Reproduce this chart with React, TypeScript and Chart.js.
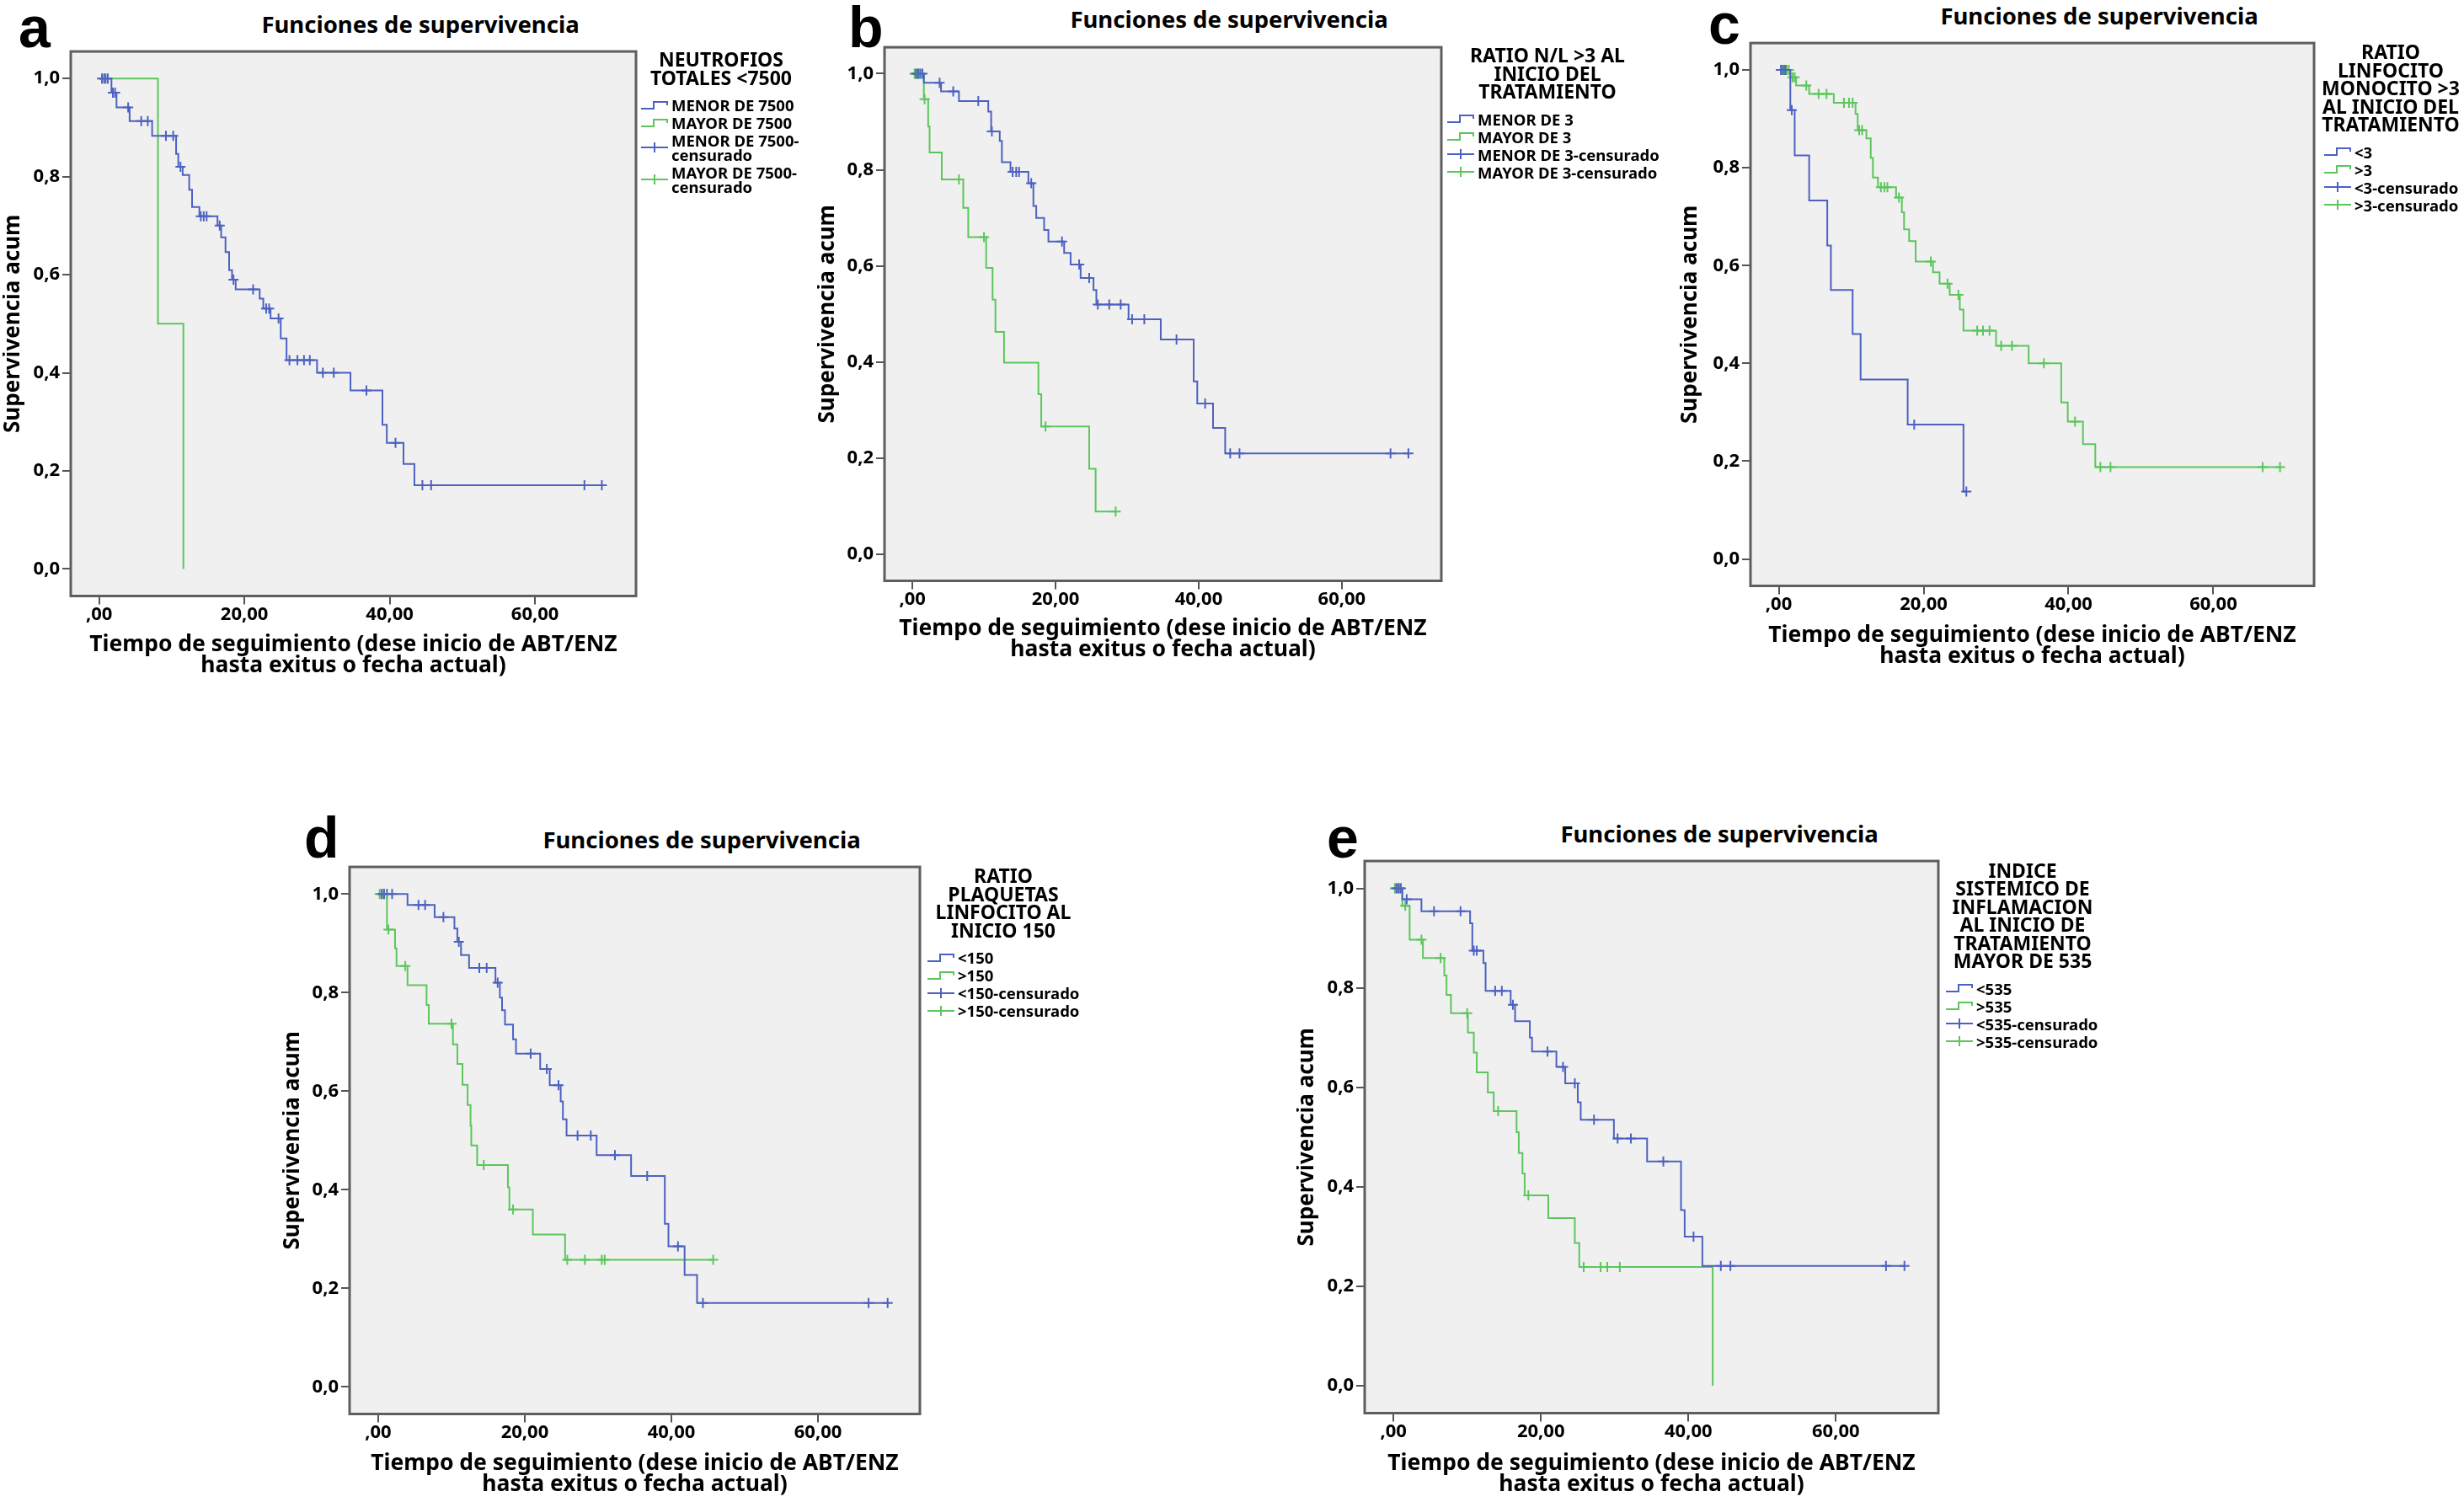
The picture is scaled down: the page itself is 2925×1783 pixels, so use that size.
import React, { useEffect, useRef } from 'react';
import { Chart, registerables } from 'chart.js';

Chart.register(...registerables);

// ---------- shared text / ticks ----------
const chartTitle = 'Funciones de supervivencia';
const yAxisTitle = 'Supervivencia acum';
const xAxisTitle = ['Tiempo de seguimiento (dese inicio de ABT/ENZ', 'hasta exitus o fecha actual)'];
const xTickValues = [0, 20, 40, 60];
const xTickLabels = [',00', '20,00', '40,00', '60,00'];
const yTickValues = [0, 0.2, 0.4, 0.6, 0.8, 1.0];
const yTickLabels = ['0,0', '0,2', '0,4', '0,6', '0,8', '1,0'];

// ---------- panel a ----------
const aLegendTitle = ['NEUTROFIOS', 'TOTALES <7500'];
const aGroups = ['MENOR DE 7500', 'MAYOR DE 7500'];
const aBlueTimes = [1.7, 2.4, 4.2, 7.3, 10.6, 10.9, 11.5, 12.4, 12.8, 13.8, 16.3, 16.8, 17.4, 17.9, 18.3, 18.8, 22.1, 22.6, 23.6, 25.0, 25.8, 30.0, 34.6, 39.0, 39.6, 41.9, 43.4];
const aBlueSurv = [0.971, 0.941, 0.913, 0.883, 0.846, 0.82, 0.803, 0.773, 0.738, 0.719, 0.70, 0.676, 0.646, 0.609, 0.59, 0.57, 0.551, 0.531, 0.511, 0.47, 0.426, 0.40, 0.364, 0.294, 0.257, 0.214, 0.171];
const aBlueCensored = [0.4, 0.7, 0.9, 1.2, 1.9, 2.2, 4.0, 5.8, 6.7, 9.2, 10.2, 11.2, 14.0, 14.4, 14.8, 16.6, 18.5, 21.2, 23.0, 23.4, 24.7, 26.2, 27.3, 28.2, 29.0, 30.8, 32.3, 36.8, 40.8, 44.5, 45.7, 66.8, 69.2];
const aGreenTimes = [8.1, 11.6];
const aGreenSurv = [0.5, 0];
const aGreenCensored: number[] = [];

// ---------- panel b ----------
const bLegendTitle = ['RATIO N/L >3 AL', 'INICIO DEL', 'TRATAMIENTO'];
const bGroups = ['MENOR DE 3', 'MAYOR DE 3'];
const bBlueTimes = [1.6, 4.0, 6.5, 10.6, 11.0, 12.2, 12.5, 13.7, 16.2, 16.9, 17.3, 18.4, 19.0, 21.2, 22.1, 23.5, 25.3, 25.7, 30.2, 34.7, 39.3, 39.8, 42.0, 43.7];
const bBlueSurv = [0.981, 0.963, 0.943, 0.921, 0.88, 0.86, 0.816, 0.796, 0.772, 0.725, 0.70, 0.675, 0.651, 0.627, 0.603, 0.575, 0.55, 0.52, 0.489, 0.447, 0.36, 0.314, 0.263, 0.21];
const bBlueCensored = [0.5, 0.8, 1.1, 1.4, 3.8, 5.7, 9.2, 11.1, 14.0, 14.5, 14.9, 16.6, 20.9, 23.3, 24.7, 25.9, 27.5, 29.1, 30.7, 32.4, 36.9, 40.9, 44.4, 45.7, 66.8, 69.3];
const bGreenTimes = [1.6, 2.2, 2.4, 4.1, 7.1, 7.8, 10.3, 11.2, 11.6, 12.8, 17.6, 18.0, 24.7, 25.6];
const bGreenSurv = [0.947, 0.89, 0.836, 0.78, 0.721, 0.66, 0.596, 0.53, 0.463, 0.399, 0.333, 0.266, 0.178, 0.089];
const bGreenCensored = [0.3, 0.6, 0.9, 1.7, 6.5, 10.0, 18.6, 28.4];

// ---------- panel c ----------
const cLegendTitle = ['RATIO', 'LINFOCITO', 'MONOCITO >3', 'AL INICIO DEL', 'TRATAMIENTO'];
const cGroups = ['<3', '>3'];
const cBlueTimes = [1.6, 2.2, 4.2, 6.7, 7.2, 10.2, 11.3, 17.8, 25.5];
const cBlueSurv = [0.918, 0.825, 0.733, 0.641, 0.55, 0.46, 0.367, 0.275, 0.138];
const cBlueCensored = [0.3, 0.6, 0.9, 1.8, 18.7, 25.9];
const cGreenTimes = [1.6, 2.4, 4.2, 7.6, 10.6, 10.9, 12.1, 12.7, 13.0, 13.7, 16.2, 17.0, 17.3, 18.0, 18.9, 21.3, 22.2, 23.6, 25.0, 25.5, 30.0, 34.5, 39.0, 39.9, 42.0, 43.7];
const cGreenSurv = [0.985, 0.968, 0.951, 0.933, 0.91, 0.877, 0.86, 0.82, 0.78, 0.76, 0.739, 0.709, 0.674, 0.65, 0.608, 0.586, 0.563, 0.54, 0.51, 0.467, 0.436, 0.40, 0.32, 0.281, 0.235, 0.188];
const cGreenCensored = [0.5, 0.8, 1.1, 1.4, 1.9, 2.2, 3.8, 5.5, 6.6, 9.0, 9.7, 10.2, 11.1, 11.5, 14.1, 14.6, 15.0, 16.6, 21.0, 23.3, 24.8, 27.4, 28.2, 29.1, 30.7, 32.2, 36.6, 40.9, 44.4, 45.8, 66.8, 69.2];

// ---------- panel d ----------
const dLegendTitle = ['RATIO', 'PLAQUETAS', 'LINFOCITO AL', 'INICIO 150'];
const dGroups = ['<150', '>150'];
const dBlueTimes = [4.0, 7.7, 10.4, 10.8, 11.3, 12.4, 16.0, 16.6, 16.9, 17.3, 18.4, 18.8, 22.1, 23.4, 24.9, 25.2, 25.7, 29.8, 34.5, 39.1, 39.6, 41.8, 43.5];
const dBlueSurv = [0.978, 0.953, 0.93, 0.903, 0.876, 0.85, 0.82, 0.79, 0.764, 0.735, 0.705, 0.676, 0.645, 0.612, 0.579, 0.543, 0.51, 0.47, 0.428, 0.331, 0.285, 0.227, 0.17];
const dBlueCensored = [0.5, 0.8, 1.2, 1.9, 5.5, 6.4, 8.9, 11.0, 13.8, 14.8, 16.3, 20.8, 23.0, 24.6, 27.2, 29.0, 32.3, 36.7, 40.9, 44.3, 66.9, 69.5];
const dGreenTimes = [1.2, 2.3, 2.5, 4.0, 6.6, 6.9, 10.2, 10.8, 11.5, 12.2, 12.6, 12.7, 13.5, 17.7, 17.9, 21.1, 25.5];
const dGreenSurv = [0.928, 0.89, 0.854, 0.815, 0.775, 0.737, 0.695, 0.655, 0.613, 0.572, 0.53, 0.49, 0.45, 0.405, 0.36, 0.309, 0.258];
const dGreenCensored = [0.2, 0.5, 0.8, 1.4, 3.7, 10.0, 14.4, 18.4, 25.8, 28.2, 30.5, 30.9, 45.7];

// ---------- panel e ----------
const eLegendTitle = ['INDICE', 'SISTEMICO DE', 'INFLAMACION', 'AL INICIO DE', 'TRATAMIENTO', 'MAYOR DE 535'];
const eGroups = ['<535', '>535'];
const eBlueTimes = [1.2, 3.8, 10.4, 10.7, 12.2, 12.5, 15.9, 16.5, 18.5, 18.8, 22.1, 23.3, 25.0, 25.4, 29.9, 34.4, 39.0, 39.5, 41.9];
const eBlueSurv = [0.978, 0.954, 0.93, 0.875, 0.85, 0.794, 0.766, 0.733, 0.70, 0.672, 0.641, 0.608, 0.57, 0.535, 0.497, 0.451, 0.353, 0.30, 0.241];
const eBlueCensored = [0.4, 0.7, 1.0, 1.8, 5.5, 9.1, 10.9, 11.3, 13.8, 14.7, 16.2, 20.9, 23.0, 24.6, 27.2, 30.4, 32.2, 36.6, 40.7, 44.4, 45.7, 66.8, 69.3];
const eGreenTimes = [1.2, 2.2, 4.0, 6.9, 7.2, 7.8, 10.1, 10.9, 11.3, 12.8, 13.6, 16.7, 17.0, 17.5, 17.8, 21.0, 24.6, 25.2, 43.3];
const eGreenSurv = [0.965, 0.897, 0.86, 0.825, 0.786, 0.749, 0.71, 0.67, 0.63, 0.59, 0.552, 0.51, 0.468, 0.427, 0.383, 0.337, 0.287, 0.239, 0];
const eGreenCensored = [0.2, 0.5, 0.8, 1.6, 3.8, 6.4, 10.0, 14.2, 18.3, 25.8, 28.1, 29.0, 30.7];

// ---------- styling ----------
const FONT = "'Noto Sans', sans-serif";
const BLUE = '#4d61c0';
const GREEN = '#5cc65c';
const COLORS = [BLUE, GREEN];
const Y_TITLE_SIZE = 26;
const X_TITLE_SIZE = 26.5;
const X_TITLE_LH = 25;

type Series = { times: number[]; surv: number[]; censored: number[] };
type Panel = {
  letter: string;
  frame: { l: number; t: number; r: number; b: number };
  yTitleX: number;
  xLine2Y: number;
  titleCx: number;
  titleCy: number;
  letterX: number;
  letterBase: number;
  legendX: number;
  legendTitleCx: number;
  legendTitleY: number;
  legendTitle: string[];
  groups: string[];
  wrapCensored: boolean;
  series: Series[];
};

const panels: Panel[] = [
  {
    letter: 'a', frame: { l: 84, t: 50, r: 759, b: 707 }, yTitleX: 16, xLine2Y: 790,
    titleCx: 499, titleCy: 29, letterX: 25, letterBase: 56,
    legendX: 761, legendTitleCx: 856, legendTitleY: 71, legendTitle: aLegendTitle, groups: aGroups, wrapCensored: true,
    series: [
      { times: aBlueTimes, surv: aBlueSurv, censored: aBlueCensored },
      { times: aGreenTimes, surv: aGreenSurv, censored: aGreenCensored },
    ],
  },
  {
    letter: 'b', frame: { l: 1050, t: 45, r: 1715, b: 689 }, yTitleX: 983, xLine2Y: 771,
    titleCx: 1459, titleCy: 23, letterX: 1010, letterBase: 56,
    legendX: 1718, legendTitleCx: 1837, legendTitleY: 66, legendTitle: bLegendTitle, groups: bGroups, wrapCensored: false,
    series: [
      { times: bBlueTimes, surv: bBlueSurv, censored: bBlueCensored },
      { times: bGreenTimes, surv: bGreenSurv, censored: bGreenCensored },
    ],
  },
  {
    letter: 'c', frame: { l: 2078, t: 40, r: 2751, b: 695 }, yTitleX: 2007, xLine2Y: 779,
    titleCx: 2492, titleCy: 19, letterX: 2031, letterBase: 52,
    legendX: 2759, legendTitleCx: 2838, legendTitleY: 62, legendTitle: cLegendTitle, groups: cGroups, wrapCensored: false,
    series: [
      { times: cBlueTimes, surv: cBlueSurv, censored: cBlueCensored },
      { times: cGreenTimes, surv: cGreenSurv, censored: cGreenCensored },
    ],
  },
  {
    letter: 'd', frame: { l: 415, t: 1018, r: 1096, b: 1678 }, yTitleX: 348, xLine2Y: 1762,
    titleCx: 833, titleCy: 997, letterX: 364, letterBase: 1018,
    legendX: 1101, legendTitleCx: 1191, legendTitleY: 1040, legendTitle: dLegendTitle, groups: dGroups, wrapCensored: false,
    series: [
      { times: dBlueTimes, surv: dBlueSurv, censored: dBlueCensored },
      { times: dGreenTimes, surv: dGreenSurv, censored: dGreenCensored },
    ],
  },
  {
    letter: 'e', frame: { l: 1620, t: 1011, r: 2305, b: 1677 }, yTitleX: 1552, xLine2Y: 1762,
    titleCx: 2041, titleCy: 990, letterX: 1578, letterBase: 1018,
    legendX: 2310, legendTitleCx: 2401, legendTitleY: 1033.5, legendTitle: eLegendTitle, groups: eGroups, wrapCensored: false,
    series: [
      { times: eBlueTimes, surv: eBlueSurv, censored: eBlueCensored },
      { times: eGreenTimes, surv: eGreenSurv, censored: eGreenCensored },
    ],
  },
];

function stepPoints(s: Series) {
  const pts = [{ x: 0, y: 1 }];
  s.times.forEach((t, i) => pts.push({ x: t, y: s.surv[i] }));
  const lastT = s.times[s.times.length - 1];
  const lastC = s.censored.length ? Math.max(...s.censored) : 0;
  if (lastC > lastT) pts.push({ x: lastC, y: s.surv[s.surv.length - 1] });
  return pts;
}

function survivalAt(s: Series, t: number) {
  let v = 1;
  s.times.forEach((et, i) => {
    if (et <= t) v = s.surv[i];
  });
  return v;
}

const framePlugin = {
  id: 'kmFrame',
  beforeDraw(chart: any) {
    const { ctx, chartArea: a } = chart;
    ctx.save();
    ctx.fillStyle = '#f0f0f0';
    ctx.fillRect(a.left, a.top, a.right - a.left, a.bottom - a.top);
    ctx.restore();
  },
  afterDraw(chart: any) {
    const { ctx, chartArea: a } = chart;
    ctx.save();
    ctx.strokeStyle = '#5e5e5e';
    ctx.lineWidth = 3;
    ctx.strokeRect(a.left, a.top, a.right - a.left, a.bottom - a.top);
    ctx.restore();
  },
};

function KMChart({ p }: { p: Panel }) {
  const ref = useRef<HTMLCanvasElement>(null);
  const left = p.yTitleX - Y_TITLE_SIZE / 2;
  const top = p.frame.t - 4;
  const right = p.frame.r + 4;
  const bottom = p.xLine2Y + X_TITLE_LH / 2;
  const w = Math.round(right - left);
  const h = Math.round(bottom - top);
  const padL = p.frame.l - left;
  const padB = bottom - p.frame.b;

  useEffect(() => {
    if (!ref.current) return;
    const lineSets = p.series.map((s, i) => ({
      label: p.groups[i],
      data: stepPoints(s),
      stepped: 'before' as const,
      borderColor: COLORS[i],
      backgroundColor: COLORS[i],
      borderWidth: 2,
      pointRadius: 0,
      fill: false,
      showLine: true,
    }));
    const censorSets = p.series.map((s, i) => ({
      label: p.groups[i] + '-censurado',
      data: s.censored.map((t) => ({ x: t, y: survivalAt(s, t) })),
      showLine: false,
      borderColor: COLORS[i],
      backgroundColor: COLORS[i],
      pointStyle: 'cross' as const,
      pointRadius: 6,
      pointBorderWidth: 2,
      pointBorderColor: COLORS[i],
    }));
    const tickFont = { family: FONT, size: 22, weight: 'bold' as const, lineHeight: 1.1 };
    const chart = new Chart(ref.current, {
      type: 'line',
      data: { datasets: [...lineSets, ...censorSets] as any },
      options: {
        animation: false,
        responsive: false,
        maintainAspectRatio: false,
        layout: { padding: { top: 4, right: 4, left: 0, bottom: 0 } },
        plugins: { legend: { display: false }, title: { display: false }, tooltip: { enabled: false } },
        scales: {
          x: {
            type: 'linear',
            bounds: 'data',
            min: -3.9,
            max: 73.9,
            afterBuildTicks: (ax: any) => {
              ax.ticks = xTickValues.map((v) => ({ value: v }));
            },
            afterFit: (ax: any) => {
              ax.height = padB;
            },
            ticks: {
              autoSkip: false,
              maxRotation: 0,
              padding: 0,
              color: '#000',
              font: tickFont,
              callback: (_v: any, i: number) => xTickLabels[i],
            },
            grid: { display: true, drawOnChartArea: false, drawTicks: true, tickLength: 10, color: '#555', lineWidth: 2 },
            border: { display: false },
            title: {
              display: true,
              text: xAxisTitle,
              color: '#000',
              padding: 0,
              font: { family: FONT, size: X_TITLE_SIZE, weight: 'bold', lineHeight: X_TITLE_LH / X_TITLE_SIZE },
            },
          },
          y: {
            type: 'linear',
            bounds: 'data',
            min: -0.055,
            max: 1.055,
            afterBuildTicks: (ax: any) => {
              ax.ticks = yTickValues.map((v) => ({ value: v }));
            },
            afterFit: (ax: any) => {
              ax.width = padL;
            },
            ticks: {
              autoSkip: false,
              padding: 3,
              color: '#000',
              font: tickFont,
              callback: (_v: any, i: number) => yTickLabels[i],
            },
            grid: { display: true, drawOnChartArea: false, drawTicks: true, tickLength: 10, color: '#555', lineWidth: 2 },
            border: { display: false },
            title: {
              display: true,
              text: yAxisTitle,
              color: '#000',
              padding: 0,
              font: { family: FONT, size: Y_TITLE_SIZE, weight: 'bold', lineHeight: 1 },
            },
          },
        },
      },
      plugins: [framePlugin],
    });
    return () => chart.destroy();
  }, []);

  return (
    <canvas
      ref={ref}
      width={w}
      height={h}
      style={{ position: 'absolute', left, top, width: w, height: h }}
    />
  );
}

function StepIcon({ color }: { color: string }) {
  return (
    <svg width={32} height={14} style={{ display: 'block', flex: 'none' }}>
      <path d="M0 11 H15 V3 H31 V7" stroke={color} strokeWidth={2} fill="none" />
    </svg>
  );
}

function CrossIcon({ color }: { color: string }) {
  return (
    <svg width={32} height={14} style={{ display: 'block', flex: 'none' }}>
      <path d="M0 7 H32 M16 1 V13" stroke={color} strokeWidth={2} fill="none" />
    </svg>
  );
}

function Legend({ p }: { p: Panel }) {
  const titleLH = 21.5;
  const titleTop = p.legendTitleY - titleLH / 2;
  const itemsTop = titleTop + p.legendTitle.length * titleLH + 13;
  const items = [
    ...p.groups.map((g, i) => ({ text: g, color: COLORS[i], cross: false })),
    ...p.groups.map((g, i) => ({
      text: p.wrapCensored ? g + '-\ncensurado' : g + '-censurado',
      color: COLORS[i],
      cross: true,
    })),
  ];
  return (
    <>
      <div
        style={{
          position: 'absolute',
          left: p.legendTitleCx - 150,
          width: 300,
          top: titleTop,
          textAlign: 'center',
          fontFamily: FONT,
          fontWeight: 700,
          fontSize: 23,
          lineHeight: `${titleLH}px`,
          whiteSpace: 'nowrap',
          color: '#000',
        }}
      >
        {p.legendTitle.map((l, i) => (
          <div key={i}>{l}</div>
        ))}
      </div>
      <div style={{ position: 'absolute', left: p.legendX, top: itemsTop, fontFamily: FONT, fontWeight: 700, color: '#000' }}>
        {items.map((it, i) => (
          <div key={i} style={{ display: 'flex', alignItems: 'center', marginBottom: 4 }}>
            {it.cross ? <CrossIcon color={it.color} /> : <StepIcon color={it.color} />}
            <div style={{ marginLeft: 4, fontSize: 18.5, lineHeight: '17px', whiteSpace: 'pre' }}>{it.text}</div>
          </div>
        ))}
      </div>
    </>
  );
}

function PanelView({ p }: { p: Panel }) {
  const letterSize = 68;
  return (
    <>
      <div
        style={{
          position: 'absolute',
          left: p.letterX - 3,
          top: p.letterBase - 57.6,
          fontFamily: "'Liberation Sans', Arial, sans-serif",
          fontWeight: 700,
          fontSize: letterSize,
          lineHeight: `${letterSize}px`,
          color: '#000',
        }}
      >
        {p.letter}
      </div>
      <div
        style={{
          position: 'absolute',
          left: p.titleCx - 300,
          width: 600,
          top: p.titleCy - 15,
          lineHeight: '30px',
          textAlign: 'center',
          fontFamily: FONT,
          fontWeight: 700,
          fontSize: 27.5,
          color: '#000',
        }}
      >
        {chartTitle}
      </div>
      <KMChart p={p} />
      <Legend p={p} />
    </>
  );
}

export default function App() {
  return (
    <div
      style={{
        position: 'absolute',
        left: 0,
        top: 0,
        width: 2925,
        height: 1783,
        background: '#fff',
        overflow: 'hidden',
      }}
    >
      {panels.map((p) => (
        <PanelView key={p.letter} p={p} />
      ))}
    </div>
  );
}
